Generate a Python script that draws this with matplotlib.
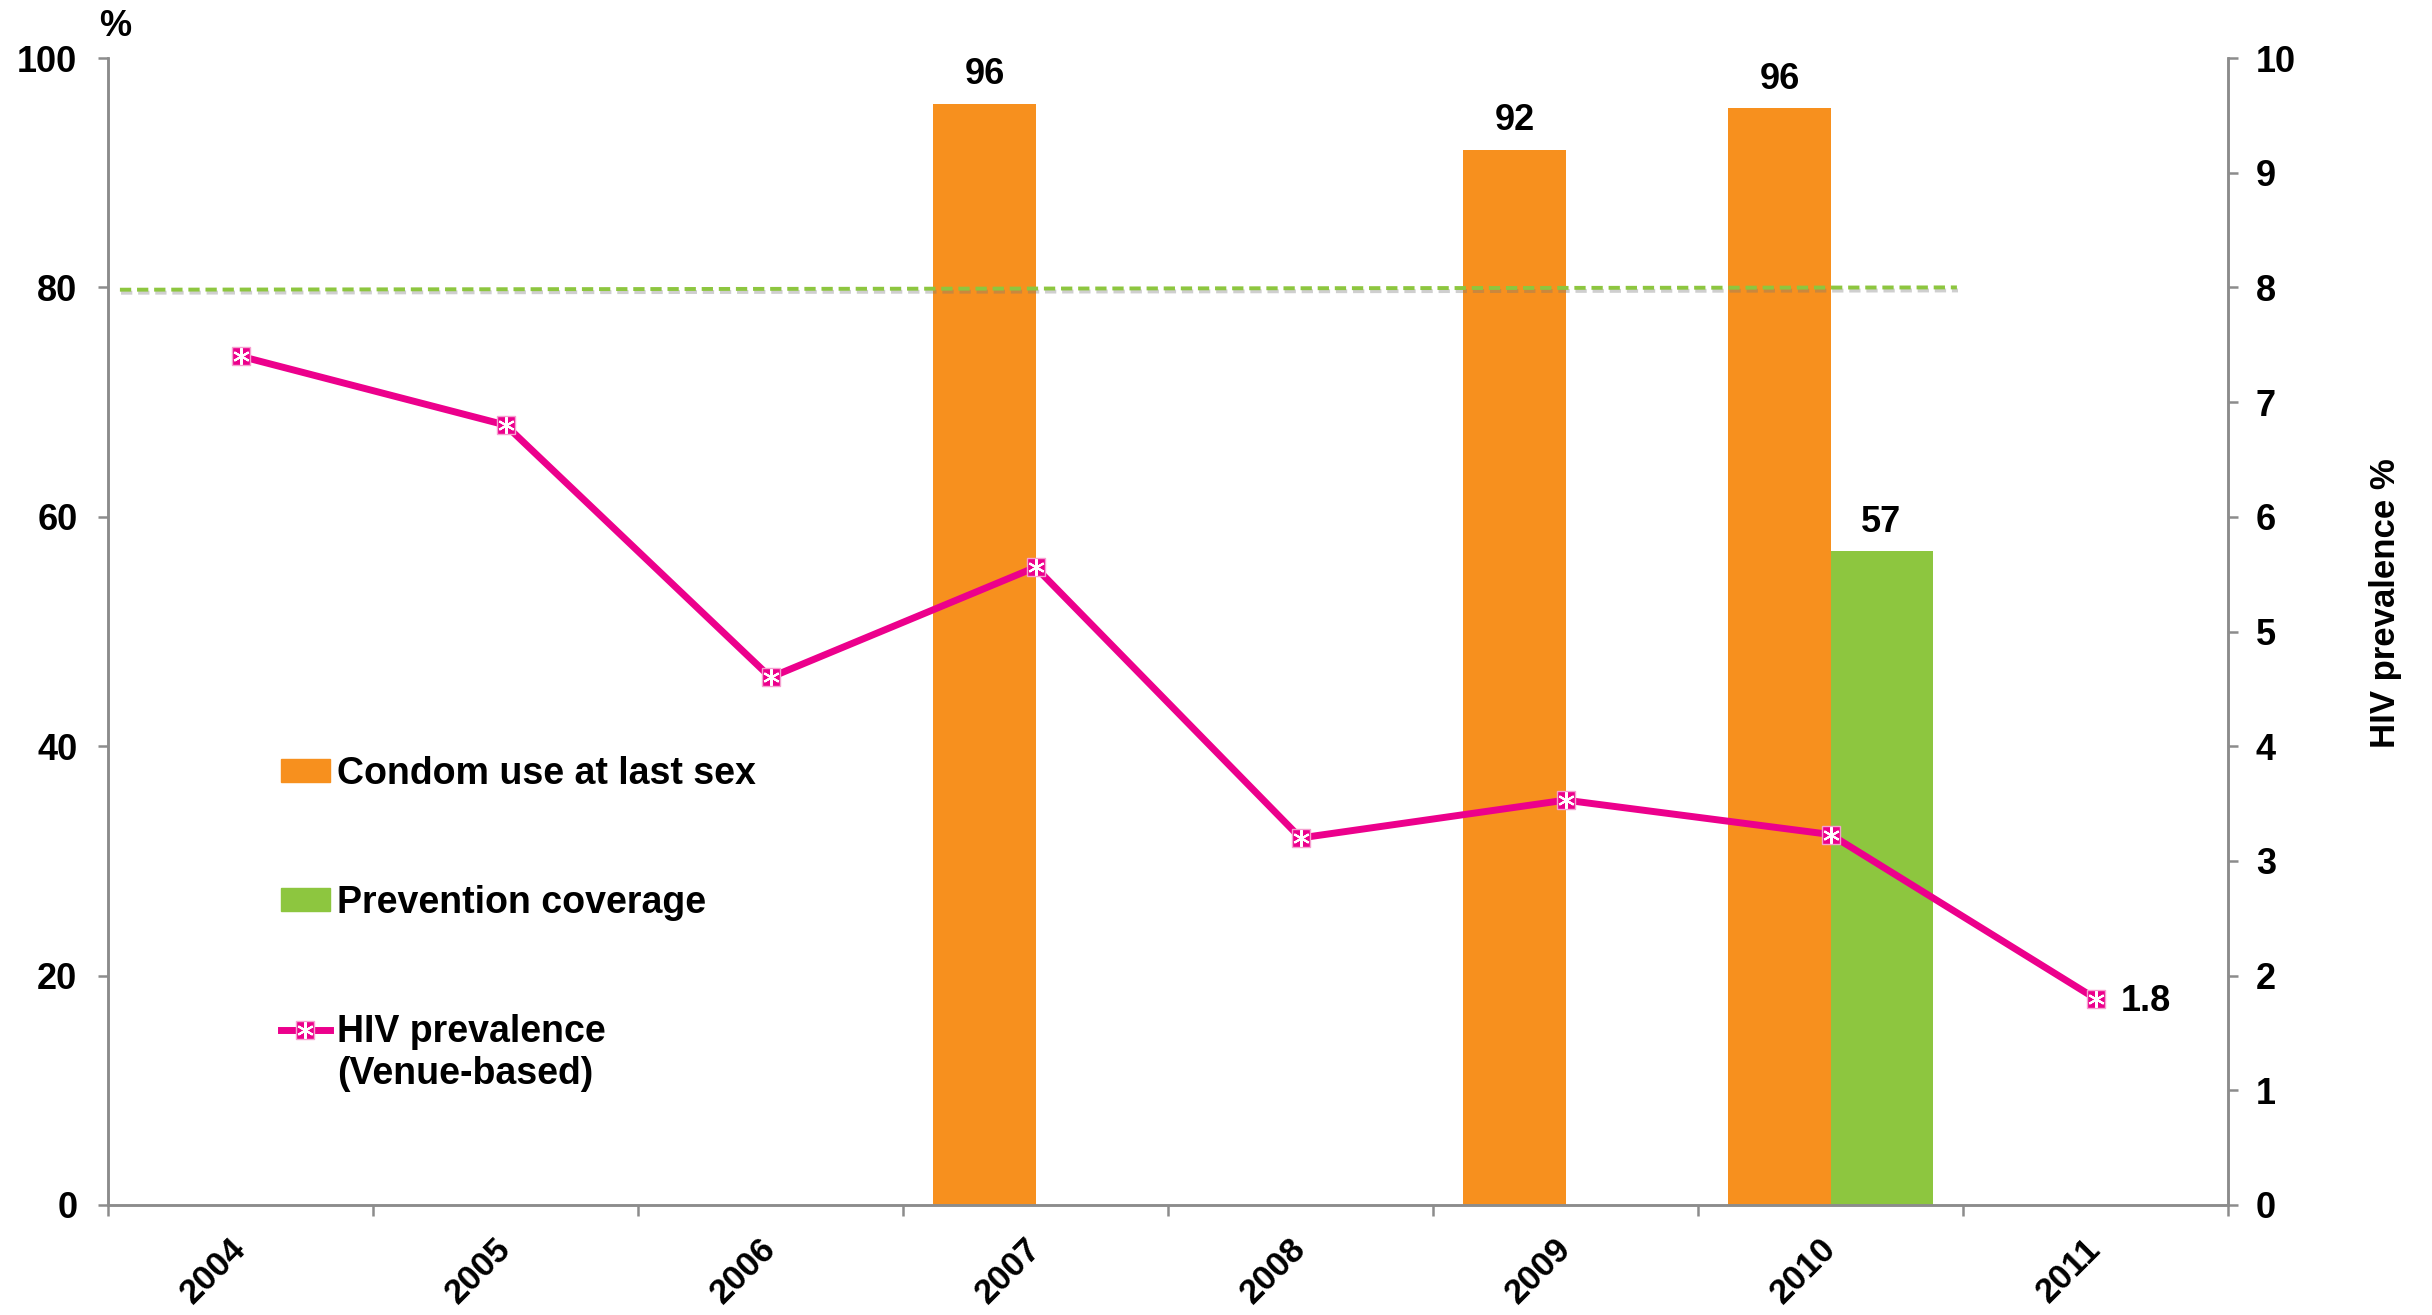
import numpy as np
import matplotlib
matplotlib.use("Agg")
import matplotlib.pyplot as plt
import matplotlib.patheffects as pe
from matplotlib.lines import Line2D
from matplotlib.patches import Patch

plt.rcParams['font.family'] = ['Liberation Sans', 'DejaVu Sans']
plt.rcParams['font.weight'] = 'bold'

years = ['2004', '2005', '2006', '2007', '2008', '2009', '2010', '2011']
condom_use = [np.nan, np.nan, np.nan, 96, np.nan, 92, 95.6, np.nan]
coverage = [np.nan, np.nan, np.nan, np.nan, np.nan, np.nan, 57, np.nan]
hiv_prev = [7.4, 6.8, 4.6, 5.56, 3.2, 3.53, 3.23, 1.8]
target_x = [-0.455, 6.477]
target_y = [79.8, 80.0]
condom_labels = {3: '96', 5: '92', 6: '96'}
coverage_labels = {6: '57'}
hiv_labels = {7: '1.8'}

ORANGE = '#F7901E'
GREEN = '#8DC63F'
MAGENTA = '#EC008C'
GRAY = '#8C8C8C'

W, H, DPI = 2432, 1315, 100
fig = plt.figure(figsize=(W / DPI, H / DPI), dpi=DPI)
ax = fig.add_axes([108 / W, 1 - 1205 / H, (2228 - 108) / W, (1205 - 58) / H])
ax2 = ax.twinx()

x = np.arange(len(years))
bw = 0.385
ax.bar(x, condom_use, width=-bw, align='edge', color=ORANGE, zorder=2)
ax.bar(x, coverage, width=bw, align='edge', color=GREEN, zorder=2)
ax.plot(target_x, target_y, color=GREEN, lw=2.8, dashes=(2.9, 1.5), zorder=3,
        solid_capstyle='butt',
        path_effects=[pe.SimpleLineShadow(offset=(0.8, -2.2), shadow_color='#777777', alpha=0.35),
                      pe.Normal()])

ax.set_xlim(-0.5, len(years) - 0.5)
ax.set_ylim(0, 100)
ax.set_yticks(range(0, 101, 20))

ax2.plot(x, hiv_prev, color=MAGENTA, lw=5, marker='s', markersize=13,
         markerfacecolor=MAGENTA, markeredgecolor='#F5A0D0', markeredgewidth=1, zorder=4)
ax2.plot(x, hiv_prev, linestyle='none', marker=(6, 2, 0), markersize=12,
         markeredgecolor='white', markeredgewidth=1.5, zorder=5)
ax2.set_ylim(0, 10)
ax2.set_yticks(range(0, 11))

for a in (ax, ax2):
    a.spines['top'].set_visible(False)
    for s in ('left', 'right', 'bottom'):
        a.spines[s].set_color(GRAY)
        a.spines[s].set_linewidth(1.8)
    a.patch.set_visible(False)

ax.tick_params(axis='y', length=7, width=1.8, color=GRAY, pad=15, labelsize=26)
ax2.tick_params(axis='y', length=7, width=1.8, color=GRAY, pad=13, labelsize=26)

ax.set_xticks(x)
ax.set_xticklabels(years, rotation=45, ha='right', va='center', rotation_mode='anchor', fontsize=25)
ax.tick_params(axis='x', which='major', length=0, pad=28)
ax.set_xticks(np.arange(-0.5, len(years), 1.0), minor=True)
ax.tick_params(axis='x', which='minor', length=8, width=1.8, color=GRAY)

for i, t in condom_labels.items():
    ax.annotate(t, (x[i] - bw / 2, condom_use[i]), xytext=(0, 14), textcoords='offset points',
                ha='center', va='baseline', fontsize=26, fontweight='bold')
for i, t in coverage_labels.items():
    ax.annotate(t, (x[i] + bw / 2, coverage[i]), xytext=(0, 14), textcoords='offset points',
                ha='center', va='baseline', fontsize=26, fontweight='bold')
for i, t in hiv_labels.items():
    ax2.annotate(t, (x[i], hiv_prev[i]), xytext=(18, -9), textcoords='offset points',
                 ha='left', va='baseline', fontsize=26, fontweight='bold')

fig.text(115 / W, 1 - 26 / H, '%', ha='center', va='center', fontsize=26, fontweight='bold')
fig.text(2386 / W, 1 - 603 / H, 'HIV prevalence %', rotation=90, ha='center', va='center',
         fontsize=25, fontweight='bold')

hiv_handle = (Line2D([], [], color=MAGENTA, lw=5, marker='s', markersize=13,
                     markerfacecolor=MAGENTA, markeredgecolor='#F5A0D0'),
              Line2D([], [], linestyle='none', marker=(6, 2, 0), markersize=12,
                     markeredgecolor='white', markeredgewidth=1.5))
handles = [Patch(color=ORANGE), Patch(color=GREEN), hiv_handle]
labels = ['Condom use at last sex', 'Prevention coverage', 'HIV prevalence']
leg = fig.legend(handles, labels, loc='upper left', bbox_to_anchor=(281 / W, 1 - 756 / H),
                 frameon=False, borderpad=0, borderaxespad=0, handlelength=1.3,
                 handleheight=0.55, handletextpad=0.2, labelspacing=2.48,
                 prop={'size': 27, 'weight': 'bold'})
fig.canvas.draw()
tb = leg.get_texts()[2].get_window_extent()
fig.text(tb.x0 / W, (tb.y0 - 6) / H, '(Venue-based)', ha='left', va='top', fontsize=27,
         fontweight='bold')

fig.savefig('out.png', dpi=DPI)
